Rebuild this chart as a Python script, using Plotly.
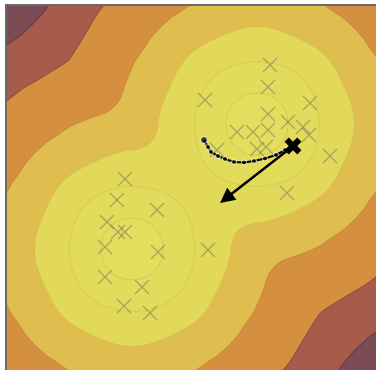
import numpy as np
import plotly.graph_objects as go

# --- mixture surface parameters -------------------------------------------
centers_x = [5.0, 10.0]
centers_y = [5.0, 10.0]
sigma = 1.5
# contour levels of the log-mixture surface (outermost first)
levels = [-20.5, -13.4, -6.38, -3.21, -1.37, -0.40]
band_colors = ["#7b4b56", "#a75b4b", "#d4903f", "#dfbd4f",
               "#e2d95a", "#e3db5c", "#e4dd5e"]
line_colors = ["#6b3c47", "#945040", "#c98d3c", "#d8c04c", "#d7cf4c", "#d7cf4c"]

# --- observed samples -------------------------------------------------------
pts_x = [10.52, 10.44, 7.92, 12.12, 10.44, 11.24, 9.20, 9.84, 10.44, 11.84,
         12.08, 10.00, 10.36, 8.40, 12.92, 11.20,
         4.72, 4.40, 6.00, 4.00, 4.44, 4.72, 3.92, 6.04, 3.92, 5.40,
         4.68, 5.72, 8.04]
pts_y = [12.36, 11.48, 10.96, 10.84, 10.40, 10.08, 9.68, 9.68, 9.76, 9.88,
         9.56, 9.00, 9.08, 8.96, 8.72, 7.24,
         7.80, 6.96, 6.56, 6.08, 5.68, 5.68, 5.08, 4.88, 3.88, 3.48,
         2.72, 2.44, 4.96]

# --- optimisation path ------------------------------------------------------
path_x = [7.88, 8.04, 8.16, 8.44, 8.72, 9.08, 9.48, 9.88, 10.32, 10.76, 11.12, 11.44]
path_y = [9.36, 9.08, 8.88, 8.72, 8.60, 8.48, 8.46, 8.52, 8.62, 8.76, 8.96, 9.12]

# update direction drawn from the final iterate
step_x = [11.44, 8.52]
step_y = [9.12, 6.84]

x_range = [0.0, 14.76]
y_range = [0.16, 14.72]

# --- evaluate surface on a coarse grid --------------------------------------
gx = np.arange(-1.5, 17.0, 1.0)
gy = np.arange(-1.5, 17.0, 1.0)
GX, GY = np.meshgrid(gx, gy)
comp = [np.exp(-((GX - cx) ** 2 + (GY - cy) ** 2) / (2 * sigma ** 2))
        for cx, cy in zip(centers_x, centers_y)]
logp = np.log(comp[0] + comp[1] + 1e-300)

# map the (uneven) levels onto unit-spaced band indices, extending the
# first and last segments linearly beyond the outer levels
lv = np.array(levels)
n = len(levels)
zband = np.interp(logp, lv, np.arange(1, n + 1))
lo = logp < lv[0]
zband[lo] = 1 + (logp[lo] - lv[0]) / (lv[1] - lv[0])
hi = logp > lv[-1]
zband[hi] = n + (logp[hi] - lv[-1]) / (lv[-1] - lv[-2])

fill_scale = [[k / n, c] for k, c in enumerate(band_colors)]
line_scale = [[k / (n - 1), c] for k, c in enumerate(line_colors)]

fig = go.Figure()
fig.add_trace(go.Contour(
    x=gx, y=gy, z=zband,
    contours=dict(start=1, end=n, size=1, coloring="fill"),
    colorscale=fill_scale, showscale=False,
    line=dict(width=0), hoverinfo="skip",
))
fig.add_trace(go.Contour(
    x=gx, y=gy, z=zband,
    contours=dict(start=1, end=n, size=1, coloring="lines"),
    colorscale=line_scale, showscale=False,
    line=dict(width=1.2), hoverinfo="skip",
))

fig.add_trace(go.Scatter(
    x=pts_x, y=pts_y, mode="markers",
    marker=dict(symbol="x-thin-open", size=14, color="rgba(95,95,90,0.45)",
                line=dict(width=1.3, color="rgba(95,95,90,0.45)")),
    hoverinfo="skip",
))

fig.add_trace(go.Scatter(
    x=path_x, y=path_y, mode="lines+markers",
    line=dict(color="black", width=2.2),
    marker=dict(size=[7] + [5] * (len(path_x) - 1), color="black"),
    hoverinfo="skip",
))
fig.add_trace(go.Scatter(
    x=[path_x[-1]], y=[path_y[-1]], mode="markers",
    marker=dict(symbol="x", size=15, color="black"),
    hoverinfo="skip",
))

fig.add_annotation(
    x=step_x[1], y=step_y[1], ax=step_x[0], ay=step_y[0],
    xref="x", yref="y", axref="x", ayref="y",
    text="", showarrow=True, arrowhead=2, arrowsize=1.2,
    arrowwidth=2.5, arrowcolor="black",
)

fig.update_xaxes(range=x_range, side="top", showline=True, linecolor="#6a6a6a",
                 linewidth=1.5, showgrid=False, zeroline=False,
                 showticklabels=False, ticks="")
fig.update_yaxes(range=y_range, showline=True, linecolor="#6a6a6a",
                 linewidth=1.5, showgrid=False, zeroline=False,
                 showticklabels=False, ticks="")
fig.update_layout(
    width=376, height=370,
    margin=dict(l=7, r=0, t=6, b=0),
    paper_bgcolor="white", plot_bgcolor="white",
    showlegend=False,
)

fig.write_html("out.html")
